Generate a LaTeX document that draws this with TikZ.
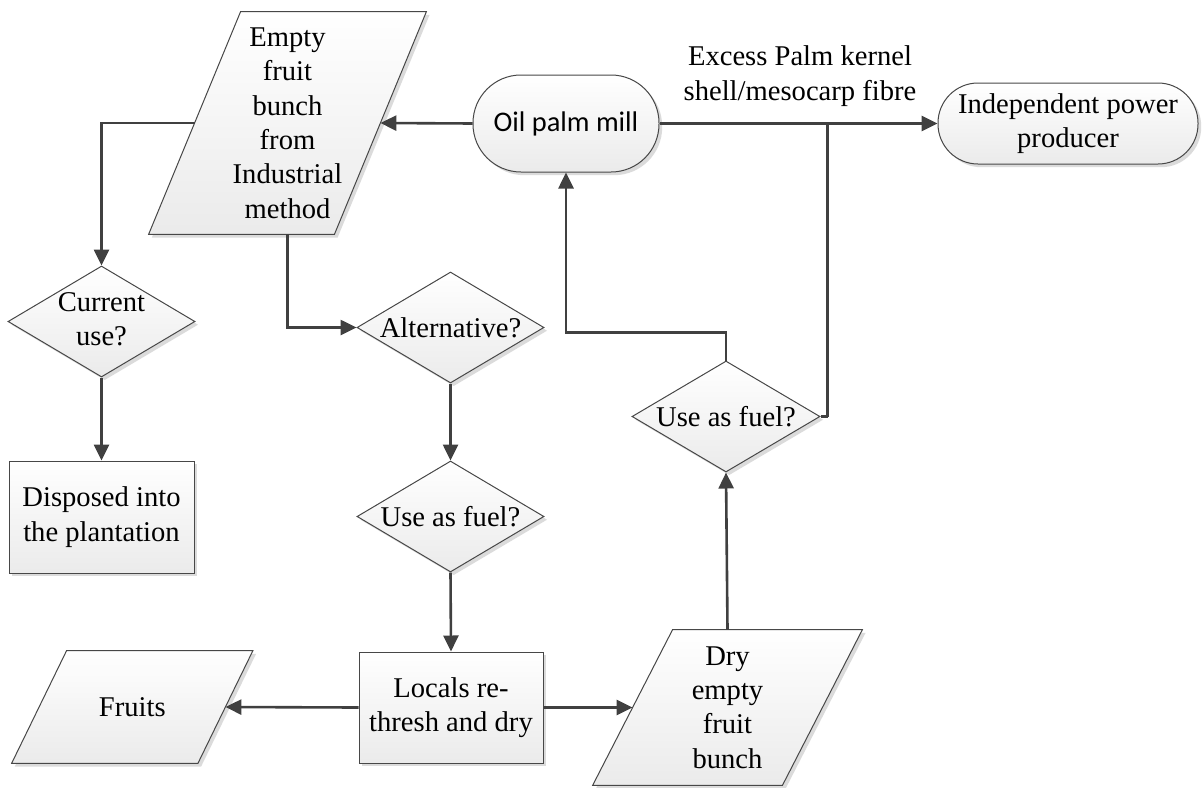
\documentclass[tikz,border=0pt]{standalone}
\usepackage{fontspec}
\setmainfont{Liberation Serif}
\newfontfamily\serfont{Liberation Serif}
\newfontfamily\calfont{Carlito}
\usetikzlibrary{shapes.geometric,shadows,arrows.meta,calc,backgrounds}
\newcommand\pgram[2]{\path[shp] ($(#1.north west)+(#2,0)$) -- ($(#1.north east)+(#2,0)$) -- ($(#1.south east)+(-#2,0)$) -- ($(#1.south west)+(-#2,0)$) -- cycle;}
\begin{document}
\begin{tikzpicture}[x=0.5pt,y=-0.5pt,
  font=\serfont\fontsize{14.3}{17.2}\selectfont,
  shp/.style={draw=black!72, line width=0.5pt, top color=white, bottom color=black!8,
    drop shadow={shadow xshift=1.6pt, shadow yshift=-1.6pt, fill=black!14, opacity=1}},
  dia/.style={shp, diamond, inner sep=0pt, minimum width=93.5pt, minimum height=55.5pt},
  rbox/.style={shp, rectangle, inner sep=0pt, align=center},
  term/.style={shp, rectangle, inner sep=0pt, align=center},
  pg/.style={rectangle, inner sep=0pt, align=center},
  conn/.style={draw=black!75, line width=1.3pt, -{Triangle[length=8pt,width=7.5pt]}},
  plain/.style={draw=black!75, line width=1.3pt}]
\useasboundingbox (0,0) rectangle (1203,787);

% nodes
\node[pg, minimum width=92.5pt, minimum height=111pt] (efb) at (287.5,123) {Empty\\fruit\\bunch\\from\\Industrial\\method};
\node[term, rounded corners=24pt, minimum width=93pt, minimum height=48.5pt] (mill) at (566,123.5) {\calfont\fontsize{14.2}{17}\selectfont Oil palm mill};
\node[term, rounded corners=20pt, minimum width=130pt, minimum height=40.5pt] (ipp) at (1068,123.5) {Independent power\\producer};
\node[dia] (cur) at (101.5,321.5) {\makebox[0pt]{\begin{tabular}{@{}c@{}}Current\\use?\end{tabular}}};
\node[rbox, minimum width=92.5pt, minimum height=56pt] (disp) at (101.5,517) {Disposed into\\the plantation};
\node[dia] (alt) at (450.5,327.5) {\makebox[0pt]{Alternative?}};
\node[dia] (uaf1) at (450.5,516.5) {\makebox[0pt]{Use as fuel?}};
\node[dia, minimum width=94pt] (uaf2) at (726,416.5) {\makebox[0pt]{Use as fuel?}};
\node[rbox, minimum width=92pt, minimum height=55.5pt] (loc) at (451,707.5) {Locals re-\\thresh and dry};
\node[pg, minimum width=92.75pt, minimum height=56pt] (fruits) at (132.25,707) {Fruits};
\node[pg, minimum width=94.5pt, minimum height=77.5pt] (dry) at (727.5,707.5) {Dry\\empty\\fruit\\bunch};
\node[align=center, inner sep=0pt] (lbl) at (800,76) {Excess Palm kernel\\shell/mesocarp fibre};

\begin{scope}[on background layer]
\pgram{efb}{46}
\pgram{fruits}{27.5}
\pgram{dry}{40}
\end{scope}

% connectors
\draw[conn] (mill.west) -- (efb.east);
\draw[conn] (efb.west) -| (cur.north);
\draw[conn] (cur.south) -- (disp.north);
\draw[conn] (efb.south) |- (alt.west);
\draw[conn] (alt.south) -- (uaf1.north);
\draw[conn] (uaf1.south) -- (loc.north);
\draw[conn] (loc.west) -- (fruits.east);
\draw[conn] (loc.east) -- (dry.west);
\draw[conn] (dry.north) -- (uaf2.south);
\draw[conn] (uaf2.north) -- ++(0,-28) -| (mill.south);
\draw[conn] (mill.east) -- (ipp.west);
\draw[plain] (uaf2.east) -- ++(7,0) coordinate (j);
\draw[plain] (j) -- (j |- mill.east);
\end{tikzpicture}
\end{document}
